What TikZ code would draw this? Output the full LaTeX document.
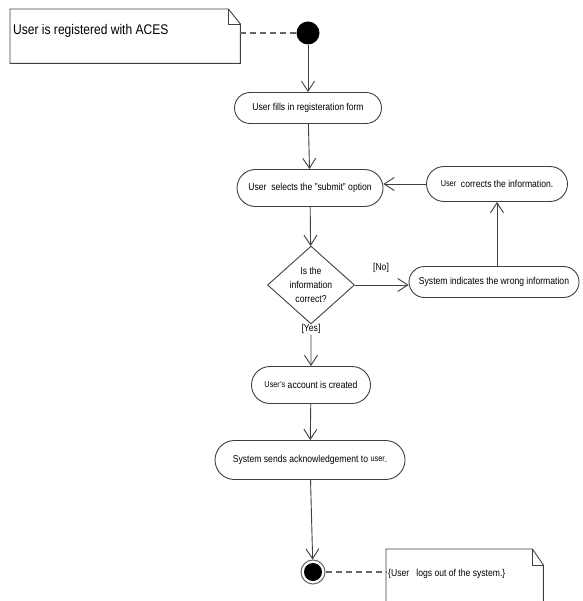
\documentclass[tikz,border=0pt]{standalone}
\usepackage{fontspec}
\setmainfont{Liberation Sans}[FakeStretch=0.86]
\usetikzlibrary{arrows.meta,shapes.geometric,shapes.misc,calc}

% small raised "User" as it appears inside some labels
\newcommand{\smalluser}[1]{{\fontsize{8.5}{9}\selectfont\raisebox{1.5pt}{#1}}}

\begin{document}
\begin{tikzpicture}[x=1pt,y=-1pt,
  edge/.style={draw=black!75, line width=0.9pt},
  flow/.style={edge, -{Straight Barb[length=10pt,width=13pt,line width=0.9pt]}},
  link/.style={draw=black!60, line width=1.2pt, dash pattern=on 6pt off 4pt},
  act/.style={rounded rectangle, draw=black!75, line width=0.9pt, inner sep=2pt,
              fill=white, font=\fontsize{10}{12}\selectfont},
  decision/.style={diamond, draw=black!75, line width=0.9pt, inner sep=0pt,
              align=center, font=\fontsize{10}{14}\selectfont},
  guard/.style={font=\fontsize{10}{12}\selectfont, inner sep=1pt},
  notebox/.style={draw=black!75, line width=0.9pt, fill=white},
  notetext/.style={anchor=west, inner sep=0pt}]

\useasboundingbox (0,0) rectangle (582,601);
\fill[white] (0,0) rectangle (582,601);

% ---- nodes ----
\node[circle, fill=black, minimum size=23pt, inner sep=0pt] (start) at (308,33) {};

\node[act, minimum width=151pt, minimum height=31pt] (a1) at (308,108)
  {User fills in registeration form};
\node[act, minimum width=150pt, minimum height=37pt] (a2) at (310,188)
  {User\ \ selects the "submit" option};
\node[act, minimum width=145pt, minimum height=35pt] (a3) at (497,184)
  {\smalluser{User}\ \ corrects the information.};
\node[act, minimum width=174pt, minimum height=31pt] (a4) at (494,282)
  {System indicates the wrong information};
\node[decision, minimum width=87pt, minimum height=74pt] (dec) at (311,285)
  {Is the\\information\\correct?};
\node[guard] (no) at (381,268) {[No]};
\node[guard, anchor=north] (yes) at (311,323) {[Yes]};
\node[act, minimum width=123pt, minimum height=37pt] (a5) at (311,385)
  {\smalluser{User's} account is created};
\node[act, minimum width=194pt, minimum height=39pt] (a6) at (310,460)
  {System sends acknowledgement to \smalluser{user}.};

\node[circle, draw=black!60, line width=1pt, minimum size=24pt, inner sep=0pt] (end) at (313,572) {};
\fill[black] (end.center) circle (9pt);

% ---- notes ----
\node[minimum width=230pt, minimum height=54pt, inner sep=0pt, anchor=north west] (n1) at (10,9) {};
\draw[notebox] (n1.north west) -- ($(n1.north east)+(-12,0)$) -- ($(n1.north east)+(0,15)$)
  -- (n1.south east) -- (n1.south west) -- cycle;
\draw[edge] ($(n1.north east)+(-12,0)$) -- ($(n1.north east)+(-12,15)$) -- ($(n1.north east)+(0,15)$);
\node[notetext, font=\fontsize{14}{16}\selectfont] (t1) at (13,31) {User is registered with ACES};

\node[minimum width=157pt, minimum height=60pt, inner sep=0pt, anchor=north west] (n2) at (386,549) {};
\draw[notebox] (n2.south west) -- (n2.north west) -- ($(n2.north east)+(-11,0)$)
  -- ($(n2.north east)+(0,16)$) -- (n2.south east);
\draw[edge] ($(n2.north east)+(-11,0)$) -- ($(n2.north east)+(-11,16)$) -- ($(n2.north east)+(0,16)$);
\node[notetext, font=\fontsize{10}{12}\selectfont] (t2) at (388,574)
  {\{User\ \ \ logs out of the system.\}};

% ---- connectors ----
\draw[link] (start.west -| n1.east) -- (start.west);
\draw[link] (end.east) -- (end.east -| n2.west);

\draw[flow] (start) -- (a1);
\draw[flow] (a1) -- (a2);
\draw[flow] (a3.west) -- (a3.west -| a2.east);
\draw[flow] (a3.south |- a4.north) -- (a3.south);
\draw[flow] (a2) -- (dec);
\draw[flow] (dec.east) -- (dec.east -| a4.west);
\draw[flow] (yes) -- (a5);
\draw[flow] (a5) -- (a6);
\draw[flow] (a6) -- (end);

\end{tikzpicture}
\end{document}
